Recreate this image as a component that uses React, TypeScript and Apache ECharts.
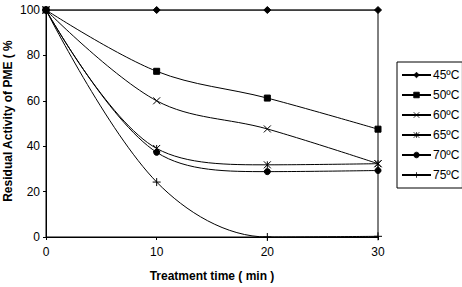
import React, { useEffect, useRef } from "react";
import * as echarts from "echarts";

const times = [0, 10, 20, 30];
const s45 = [100, 100, 100, 100];
const s50 = [100, 73, 61.2, 47.5];
const s60 = [100, 60, 47.6, 32.3];
const s65 = [100, 39, 31.8, 32.3];
const s70 = [100, 37.3, 28.8, 29.3];
const s75 = [100, 24.2, 0, 0.3];
const seriesNames = ["45ºC", "50ºC", "60ºC", "65ºC", "70ºC", "75ºC"];
const yTicks = [0, 20, 40, 60, 80, 100];
const xTicks = [0, 10, 20, 30];

const symbols = [
  { symbol: "diamond", size: 7 },
  { symbol: "rect", size: 6 },
  { symbol: "path://M0,0L10,10M10,0L0,10", size: 7 },
  { symbol: "path://M0,0L10,10M10,0L0,10M5,0L5,10", size: 7 },
  { symbol: "circle", size: 6 },
  { symbol: "path://M5,0L5,10M0,5L10,5", size: 8 },
];

export default function App() {
  const ref = useRef<HTMLDivElement>(null);
  useEffect(() => {
    if (!ref.current) return;
    const chart = echarts.init(ref.current, undefined, { renderer: "svg" });
    const all = [s45, s50, s60, s65, s70, s75];
    const font = "'Liberation Sans', Arial, sans-serif";
    chart.setOption({
      animation: false,
      backgroundColor: "#fff",
      textStyle: { fontFamily: font, color: "#000" },
      grid: {
        left: 46,
        right: 84,
        top: 10,
        bottom: 44,
        show: true,
        borderColor: "#000",
        borderWidth: 1,
      },
      xAxis: {
        type: "value",
        min: 0,
        max: 30,
        interval: 10,
        name: "Treatment time ( min )",
        nameLocation: "middle",
        nameGap: 33,
        nameTextStyle: { fontFamily: font, fontSize: 12, fontWeight: "bold", color: "#000" },
        axisLine: { lineStyle: { color: "#000", width: 1 } },
        axisTick: { show: true, length: 3, lineStyle: { color: "#000" } },
        axisLabel: { fontFamily: font, fontSize: 12, color: "#000", margin: 9,
          formatter: (v: number) => (xTicks.includes(v) ? String(v) : "") },
        splitLine: { show: false },
      },
      yAxis: {
        type: "value",
        min: 0,
        max: 100,
        interval: 20,
        axisLine: { show: true, lineStyle: { color: "#000", width: 1 } },
        axisTick: { show: true, length: 3, lineStyle: { color: "#000" } },
        axisLabel: { fontFamily: font, fontSize: 12, color: "#000", margin: 6,
          formatter: (v: number) => (yTicks.includes(v) ? String(v) : "") },
        splitLine: { show: false },
      },
      legend: {
        orient: "vertical",
        left: 397,
        top: 62,
        padding: [7, 3, 7, 4],
        borderColor: "#000",
        borderWidth: 1,
        itemWidth: 29,
        itemHeight: 7,
        itemGap: 8,
        itemStyle: { borderWidth: 0.8 },
        textStyle: { fontFamily: font, fontSize: 12, color: "#000", padding: [0, 0, 0, -3] },
        data: seriesNames,
      },
      graphic: [
        {
          type: "text",
          x: 8,
          y: 121,
          rotation: Math.PI / 2,
          style: {
            text: "Residual Activity of PME ( %",
            fontFamily: font,
            fontSize: 12,
            fontWeight: "bold",
            fill: "#000",
            textAlign: "center",
            textVerticalAlign: "middle",
          },
        },
      ],
      series: all.map((d, i) => ({
        name: seriesNames[i],
        type: "line",
        smooth: i === 0 ? false : 0.35,
        data: times.map((t, j) => [t, d[j]]),
        symbol: symbols[i].symbol,
        symbolSize: symbols[i].size,
        showAllSymbol: true,
        lineStyle: { color: "#000", width: 1 },
        itemStyle: { color: "#000", borderColor: "#000", borderWidth: 1 },
        emphasis: { disabled: true },
        z: 2 + i,
      })),
    });
    return () => chart.dispose();
  }, []);
  return (
    <div
      ref={ref}
      style={{ position: "absolute", left: 0, top: 0, width: 462, height: 287 }}
    />
  );
}
